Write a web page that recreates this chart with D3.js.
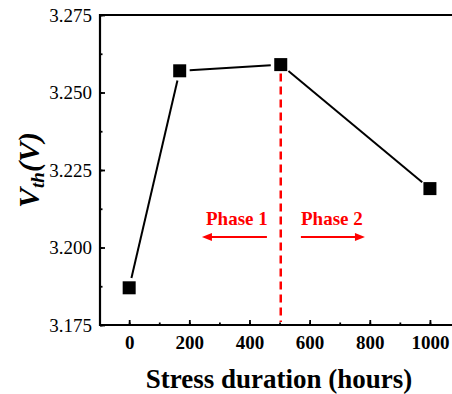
<!DOCTYPE html>
<html>
<head>
<meta charset="utf-8">
<script src="https://cdn.jsdelivr.net/npm/d3@7"></script>
<style>
    body { margin: 0; background: #fff; }
    svg { display: block; }
    text { font-family: "Liberation Serif", "Times New Roman", serif; }
</style>
</head>
<body>
<div id="chart"></div>
<script>
const hours = [0, 168, 504, 1000]
const vth = [3.187, 3.257, 3.259, 3.219]
const xTicks = [0, 200, 400, 600, 800, 1000]
const yTicks = [3.175, 3.200, 3.225, 3.250, 3.275]
const phaseSplit = 504

const width = 452
const height = 394

const x = d3.scaleLinear().domain([-97, 1100]).range([100, 460])
const y = d3.scaleLinear().domain([3.175, 3.275]).range([325, 15])

const svg = d3.select('#chart').append('svg')
    .attr('width', width)
    .attr('height', height)

// axes (ticks point inward)
const xMinor = d3.range(0, 1101, 100)
svg.append('g')
    .attr('transform', 'translate(0,' + y(3.175) + ')')
    .call(d3.axisBottom(x).tickValues(xMinor).tickSize(-2.5).tickFormat(''))
    .call(g => g.select('.domain').remove())
    .selectAll('line').attr('stroke', '#000').attr('stroke-width', 1.8)

svg.append('g')
    .attr('transform', 'translate(0,' + y(3.175) + ')')
    .attr('font-family', null)
    .call(d3.axisBottom(x).tickValues(xTicks).tickSize(-5).tickPadding(11).tickFormat(d3.format('d')))
    .call(g => g.select('.domain').remove())
    .call(g => g.selectAll('line').attr('stroke', '#000').attr('stroke-width', 1.8))
    .call(g => g.selectAll('text')
        .attr('font-size', 19).attr('font-weight', 'bold').attr('fill', '#000')
        .attr('font-family', 'Liberation Serif'))

const yMinor = d3.range(0, 9).map(i => 3.175 + i * 0.0125)
svg.append('g')
    .attr('transform', 'translate(' + x(-97) + ',0)')
    .call(d3.axisLeft(y).tickValues(yMinor).tickSize(-2.5).tickFormat(''))
    .call(g => g.select('.domain').remove())
    .selectAll('line').attr('stroke', '#000').attr('stroke-width', 1.8)

svg.append('g')
    .attr('transform', 'translate(' + x(-97) + ',0)')
    .call(d3.axisLeft(y).tickValues(yTicks).tickSize(-5).tickPadding(8).tickFormat(d3.format('.3f')))
    .call(g => g.select('.domain').remove())
    .call(g => g.selectAll('line').attr('stroke', '#000').attr('stroke-width', 1.8))
    .call(g => g.selectAll('text')
        .attr('font-size', 19).attr('fill', '#000')
        .attr('font-family', 'Liberation Serif'))

// frame: left, bottom, top (right side is cut off)
svg.append('path')
    .attr('d', 'M' + x(1100) + ',' + y(3.275) + 'H' + x(-97) + 'V' + y(3.175) + 'H' + x(1100))
    .attr('fill', 'none')
    .attr('stroke', '#000')
    .attr('stroke-width', 2.2)

// red dashed divider
svg.append('line')
    .attr('x1', x(phaseSplit)).attr('x2', x(phaseSplit))
    .attr('y1', y(vth[2]) + 9).attr('y2', y(3.175) - 3)
    .attr('stroke', '#ff0000')
    .attr('stroke-width', 2.5)
    .attr('stroke-dasharray', '8,5')

// data line with gaps around markers
const pts = hours.map((h, i) => [x(h), y(vth[i])])
const gap = 10
for (let i = 0; i < pts.length - 1; i++) {
    const [x1, y1] = pts[i]
    const [x2, y2] = pts[i + 1]
    const len = Math.hypot(x2 - x1, y2 - y1)
    const ux = (x2 - x1) / len, uy = (y2 - y1) / len
    svg.append('line')
        .attr('x1', x1 + ux * gap).attr('y1', y1 + uy * gap)
        .attr('x2', x2 - ux * gap).attr('y2', y2 - uy * gap)
        .attr('stroke', '#000')
        .attr('stroke-width', 2)
}

const ms = 13
svg.selectAll('.marker')
    .data(pts)
    .enter().append('rect')
    .attr('class', 'marker')
    .attr('x', d => d[0] - ms / 2)
    .attr('y', d => d[1] - ms / 2)
    .attr('width', ms)
    .attr('height', ms)
    .attr('fill', '#000')

// phase annotations
const phases = [
    { label: 'Phase 1', cx: 358, from: 458, to: 242 },
    { label: 'Phase 2', cx: 674, from: 571, to: 784 }
]
const textY = 3.2073
const arrowY = 3.2034
phases.forEach(p => {
    svg.append('text')
        .attr('x', x(p.cx))
        .attr('y', y(textY))
        .attr('text-anchor', 'middle')
        .attr('font-size', 19)
        .attr('font-weight', 'bold')
        .attr('fill', '#ff0000')
        .text(p.label)
    const ay = y(arrowY)
    const x1 = x(p.from), x2 = x(p.to)
    const dir = Math.sign(x2 - x1)
    svg.append('line')
        .attr('x1', x1).attr('y1', ay)
        .attr('x2', x2 - dir * 6).attr('y2', ay)
        .attr('stroke', '#ff0000')
        .attr('stroke-width', 2)
    svg.append('path')
        .attr('d', 'M' + x2 + ',' + ay + 'L' + (x2 - dir * 10) + ',' + (ay - 4) + 'L' + (x2 - dir * 10) + ',' + (ay + 4) + 'Z')
        .attr('fill', '#ff0000')
})

// axis titles
svg.append('text')
    .attr('x', 279)
    .attr('y', 388)
    .attr('text-anchor', 'middle')
    .attr('font-size', 27)
    .attr('font-weight', 'bold')
    .attr('fill', '#000')
    .text('Stress duration (hours)')

const yt = svg.append('text')
    .attr('transform', 'translate(39,170) rotate(-90)')
    .attr('text-anchor', 'middle')
    .attr('font-size', 30)
    .attr('font-weight', 'bold')
    .attr('font-style', 'italic')
    .attr('fill', '#000')
yt.append('tspan').text('V')
yt.append('tspan').attr('font-size', 19).attr('dy', 5).text('th')
yt.append('tspan').attr('dy', -5).text('(V)')
</script>
</body>
</html>
